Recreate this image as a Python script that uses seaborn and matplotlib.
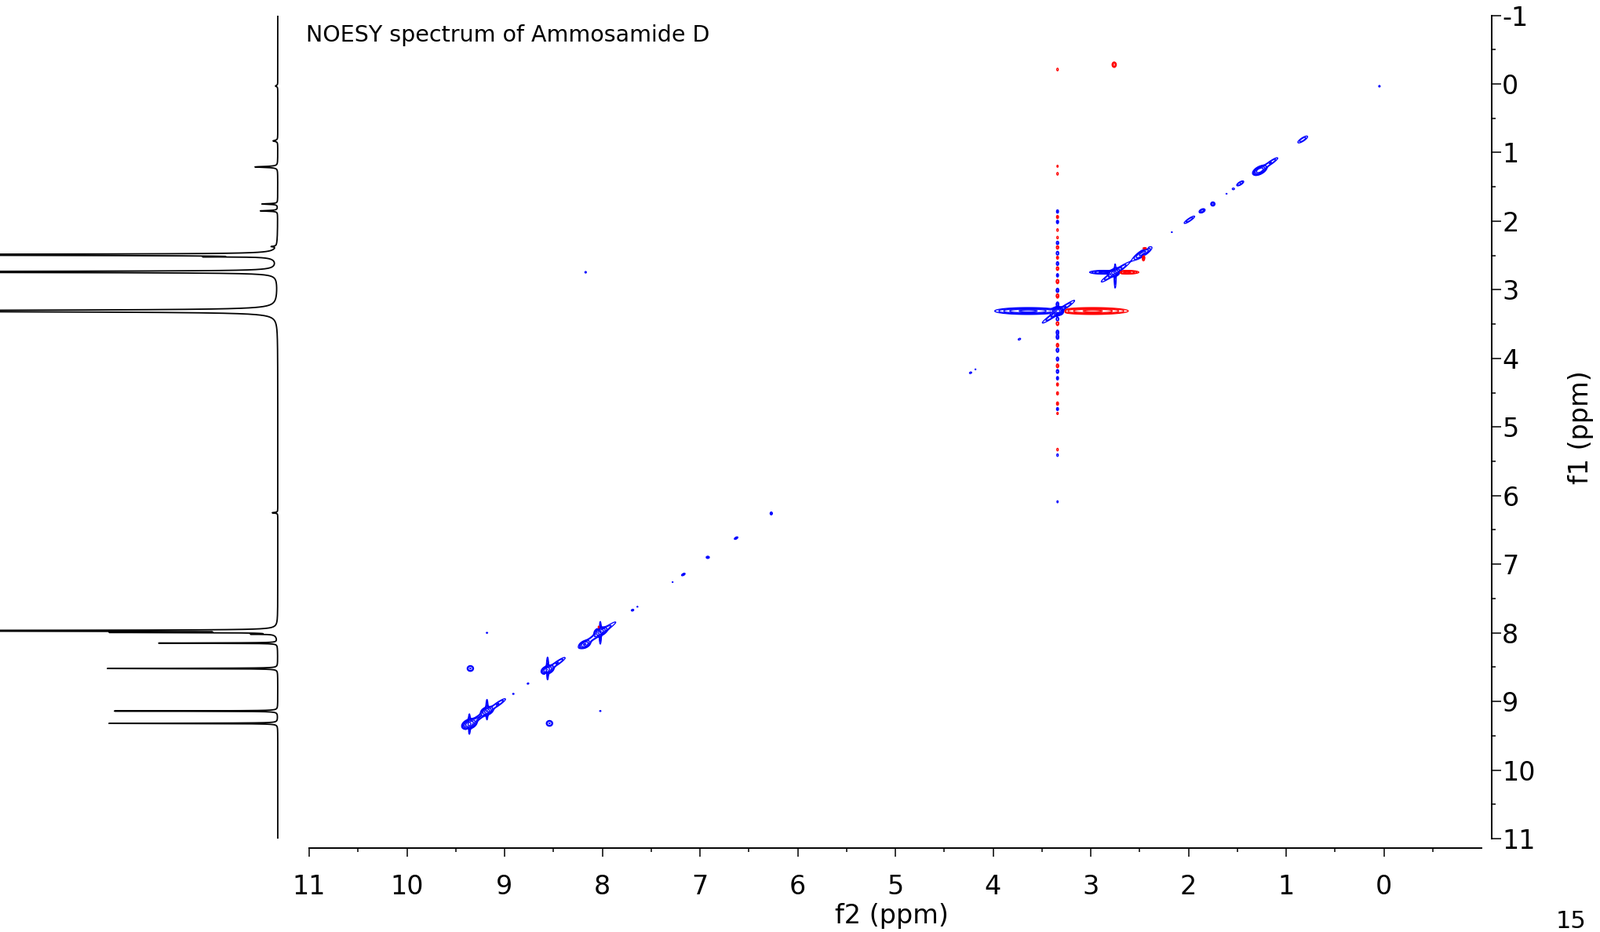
import numpy as np
import pandas as pd
import matplotlib
matplotlib.use('Agg')
import matplotlib.pyplot as plt
import seaborn as sns

# ---- 1D proton trace (f1 projection): position (ppm), height (px from baseline), half width (ppm)
trace_ppm = [0.03, 0.83, 1.21, 1.75, 1.85, 2.37, 2.49, 2.52, 2.74, 3.31, 6.25, 7.97, 7.995, 8.02, 8.15, 8.52, 9.14, 9.32]
trace_h = [3, 6, 29, 20, 22, 6, 2000, 60, 2000, 800, 7, 2000, 186, 25, 151, 217, 208, 215]
trace_w = [0.01, 0.01, 0.008, 0.006, 0.006, 0.006, 0.004, 0.003, 0.004, 0.01, 0.006,
           0.003, 0.003, 0.003, 0.003, 0.003, 0.003, 0.003]

# ---- 2D NOESY contour peaks: f2, f1, amplitude (neg = red), sigma along, sigma across, direction (deg)
peak_f2 = [0.045, 0.83, 1.27, 1.16, 1.47, 1.54, 1.61, 1.75, 1.86, 1.99, 2.17,
           2.47, 2.46, 2.44,
           2.75, 2.75, 2.87, 2.63, 2.75,
           3.335, 3.64, 2.98, 3.33, 3.73, 4.23, 4.18, 2.76,
           9.36, 9.27, 9.18, 9.07, 8.56, 8.46, 8.18, 8.02, 8.03,
           9.36, 9.18, 8.56, 8.02, 8.575, 8.035, 9.375,
           9.35, 8.54, 9.18, 8.02, 8.17,
           8.91, 8.76, 7.69, 7.64, 7.28, 7.17, 6.92, 6.63, 6.27]
peak_f1 = [0.034, 0.81, 1.26, 1.15, 1.45, 1.53, 1.60, 1.75, 1.85, 1.98, 2.16,
           2.47, 2.53, 2.40,
           2.745, 2.745, 2.745, 2.745, 2.80,
           3.31, 3.31, 3.31, 3.32, 3.72, 4.21, 4.16, -0.28,
           9.33, 9.24, 9.14, 9.04, 8.54, 8.44, 8.17, 7.98, 8.01,
           9.33, 9.12, 8.52, 8.00, 8.58, 7.94, 9.40,
           8.52, 9.32, 8.00, 9.14, 2.745,
           8.89, 8.74, 7.67, 7.62, 7.26, 7.15, 6.90, 6.62, 6.26]
peak_amp = [1.6, 2.5, 14, 3.0, 3.0, 1.6, 1.3, 4, 4, 2.5, 1.3,
            6, -4, -3,
            10, 4, 6, -6, 3,
            30, 10, -10, 4, 1.6, 1.6, 1.3, -5,
            14, 3, 10, 3, 10, 3, 8, 10, 3,
            4, 4, 4, 4, -3, -3, -2,
            3, 3, 1.4, 1.4, 1.5,
            1.4, 1.5, 1.8, 1.3, 1.3, 2, 2, 2, 2]
peak_sa = [0.012, 0.05, 0.04, 0.07, 0.032, 0.012, 0.008, 0.018, 0.022, 0.055, 0.008,
           0.07, 0.03, 0.02,
           0.03, 0.12, 0.075, 0.065, 0.12,
           0.025, 0.16, 0.17, 0.14, 0.016, 0.014, 0.008, 0.022,
           0.04, 0.085, 0.035, 0.075, 0.036, 0.075, 0.034, 0.034, 0.16,
           0.09, 0.09, 0.1, 0.1, 0.03, 0.03, 0.02,
           0.028, 0.028, 0.009, 0.009, 0.013,
           0.009, 0.011, 0.013, 0.009, 0.008, 0.02, 0.014, 0.02, 0.01]
peak_sb = [0.008, 0.016, 0.022, 0.014, 0.013, 0.012, 0.008, 0.013, 0.014, 0.013, 0.008,
           0.02, 0.008, 0.012,
           0.024, 0.016, 0.014, 0.014, 0.007,
           0.025, 0.023, 0.023, 0.016, 0.01, 0.01, 0.008, 0.012,
           0.028, 0.017, 0.025, 0.015, 0.025, 0.015, 0.023, 0.025, 0.018,
           0.007, 0.007, 0.007, 0.007, 0.007, 0.007, 0.007,
           0.022, 0.022, 0.009, 0.009, 0.009,
           0.009, 0.009, 0.01, 0.008, 0.007, 0.01, 0.014, 0.01, 0.018]
peak_ang = [90, 45, 45, 45, 45, 45, 0, 90, 45, 45, 0,
            45, 90, 0,
            45, 45, 0, 0, 90,
            0, 0, 0, 45, 45, 45, 0, 90,
            45, 45, 45, 45, 45, 45, 45, 45, 45,
            90, 90, 90, 90, 90, 90, 90,
            90, 90, 90, 90, 90,
            45, 45, 45, 90, 45, 45, 0, 45, 0]

# t1-noise streak through the water signal at f2 = 3.34 ppm
streak_f2 = 3.34
streak_f1 = [-0.21, 1.20, 1.31, 1.86, 1.94, 2.01, 2.13, 2.24, 2.32, 2.38, 2.47, 2.53, 2.62, 2.69,
             2.79, 2.88, 3.01, 3.09, 3.21, 3.43, 3.49, 3.62, 3.69, 3.81, 3.88, 4.01, 4.11, 4.19,
             4.29, 4.38, 4.51, 4.66, 4.74, 4.80, 5.33, 5.41, 6.09]
streak_amp = [-1.5, -1.3, -1.5, 2, -2, 2.2, -1.5, -1.5, 2.5, -2.5, 2.8, -2, 2.5, -2.5,
              2, -3, 3, -3, 3, 3, -3, 3, 3, -2.5, 3, 2.5, -2.5, 2.5,
              2, -1.8, -1.8, -2, 2, -1.5, -1.5, 1.5, 1.3]

xticks = list(range(0, 12))
yticks = list(range(-1, 12))

# ---- build the 2D surface from the peak list
f2_axis = np.linspace(-1, 11, 2400)
f1_axis = np.linspace(-1, 11, 1500)
Z = np.zeros((f1_axis.size, f2_axis.size))


def add_peak(x0, y0, amp, sa, sb, ang):
    r = 4.5 * max(sa, sb)
    i0, i1 = np.searchsorted(f2_axis, [x0 - r, x0 + r])
    j0, j1 = np.searchsorted(f1_axis, [y0 - r, y0 + r])
    X, Y = np.meshgrid(f2_axis[i0:i1], f1_axis[j0:j1])
    t = np.deg2rad(ang)
    u = (X - x0) * np.cos(t) + (Y - y0) * np.sin(t)
    v = -(X - x0) * np.sin(t) + (Y - y0) * np.cos(t)
    Z[j0:j1, i0:i1] += amp * np.exp(-0.5 * ((u / sa) ** 2 + (v / sb) ** 2))


for p in zip(peak_f2, peak_f1, peak_amp, peak_sa, peak_sb, peak_ang):
    add_peak(*p)
for y0, a in zip(streak_f1, streak_amp):
    add_peak(streak_f2, y0, a, 0.022, 0.009, 90)

levels = 1.0 * 1.7 ** np.arange(8)

# ---- 1D trace
f1_fine = np.linspace(-1, 11, 24001)
trace = np.zeros_like(f1_fine)
for c, h, w in zip(trace_ppm, trace_h, trace_w):
    trace += h * w ** 2 / ((f1_fine - c) ** 2 + w ** 2)
df1d = pd.DataFrame({'ppm': f1_fine, 'intensity': trace})

# ---- figure
sns.set_style('white', {'axes.edgecolor': 'black', 'xtick.color': 'black', 'ytick.color': 'black',
                        'text.color': 'black', 'axes.labelcolor': 'black'})
plt.rcParams['font.family'] = ['DejaVu Sans']
plt.rcParams['axes.unicode_minus'] = False

W, H = 2039, 1188
fig = plt.figure(figsize=(W / 100, H / 100), dpi=100)
ax = fig.add_axes([394 / W, (H - 1069) / H, (1888 - 394) / W, (1069 - 19.5) / H])
ax1d = fig.add_axes([0, (H - 1069) / H, 365 / W, (1069 - 19.5) / H])

# projection
sns.lineplot(data=df1d, x='intensity', y='ppm', orient='y', sort=False, estimator=None,
             color='black', linewidth=1.3, ax=ax1d)
ax1d.set_xlim(354, -11)
ax1d.set_ylim(11, -1)
ax1d.axis('off')

# contours
ax.contour(f2_axis, f1_axis, Z, levels=levels, colors='#0000ff', linewidths=0.95)
ax.contour(f2_axis, f1_axis, Z, levels=-levels[::-1], colors='#ff0000', linewidths=0.95,
           linestyles='solid')

ax.set_xlim(11, -1)
ax.set_ylim(11, -1)
for s in ['left', 'top']:
    ax.spines[s].set_visible(False)
ax.spines['bottom'].set_position(('outward', 8.6))
ax.spines['right'].set_position(('outward', 9.4))
ax.spines['bottom'].set_linewidth(1.4)
ax.spines['right'].set_linewidth(1.4)

ax.set_xticks(xticks)
ax.set_xticklabels([str(t) for t in xticks])
ax.set_xticks(np.arange(-0.5, 11, 1), minor=True)
ax.yaxis.tick_right()
ax.set_yticks(yticks)
ax.set_yticklabels([str(t) for t in yticks])
ax.set_yticks(np.arange(-0.5, 11, 1), minor=True)

ax.tick_params(axis='x', which='both', bottom=True, top=False, direction='out', width=1.1)
ax.tick_params(axis='x', which='major', length=8, pad=16, labelsize=24)
ax.tick_params(axis='x', which='minor', length=3.6)
ax.tick_params(axis='y', which='both', right=True, left=False, labelright=True, labelleft=False,
               direction='out', width=1.1)
ax.tick_params(axis='y', which='major', length=8.5, pad=1, labelsize=24)
ax.tick_params(axis='y', which='minor', length=3.6)

ax.set_xlabel('f2 (ppm)', fontsize=24)
ax.xaxis.set_label_coords(0.4967, -0.078)
ax.yaxis.set_label_position('right')
ax.set_ylabel('f1 (ppm)', fontsize=24, rotation=90)
ax.yaxis.set_label_coords(1.0736, 0.5)

fig.text(390 / W, 1 - 53 / H, 'NOESY spectrum of Ammosamide D', fontsize=20.5, va='baseline', ha='left')
fig.text(1983 / W, 1 - 1160 / H, '15', fontsize=22, va='top', ha='left')

fig.savefig('out.png', dpi=100)
